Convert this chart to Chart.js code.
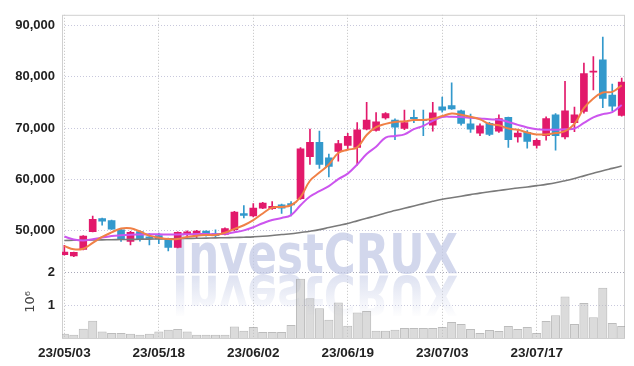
<!DOCTYPE html>
<html>
<head>
<meta charset="utf-8">
<script src="https://cdn.jsdelivr.net/npm/chart.js@4.4.0/dist/chart.umd.min.js"></script>
<style>
  html, body { margin: 0; padding: 0; background: #fff; }
  #wrap { width: 634px; height: 366px; position: relative; }
</style>
</head>
<body>
<div id="wrap"><canvas id="stockChart"></canvas></div>
<script>
// trading days, 23/05/03 .. 23/07/28
const dates = [
  '23/05/03', '23/05/04', '23/05/08', '23/05/09', '23/05/10', '23/05/11', '23/05/12', '23/05/15', '23/05/16', '23/05/17',
  '23/05/18', '23/05/19', '23/05/22', '23/05/23', '23/05/24', '23/05/25', '23/05/26', '23/05/30', '23/05/31', '23/06/01',
  '23/06/02', '23/06/05', '23/06/07', '23/06/08', '23/06/09', '23/06/12', '23/06/13', '23/06/14', '23/06/15', '23/06/16',
  '23/06/19', '23/06/20', '23/06/21', '23/06/22', '23/06/23', '23/06/26', '23/06/27', '23/06/28', '23/06/29', '23/06/30',
  '23/07/03', '23/07/04', '23/07/05', '23/07/06', '23/07/07', '23/07/10', '23/07/11', '23/07/12', '23/07/13', '23/07/14',
  '23/07/17', '23/07/18', '23/07/19', '23/07/20', '23/07/21', '23/07/24', '23/07/25', '23/07/26', '23/07/27', '23/07/28'
];
const dateTicks = [0, 10, 20, 30, 40, 50];
const priceTicks = [50000, 60000, 70000, 80000, 90000];
const volumeTicks = [1000000, 2000000];

const openPrices = [
  45400, 45150, 46400, 49850, 52380, 52000, 50230, 47940, 49850, 48850,
  49100, 48440, 46800, 49330, 49080, 49960, 49460, 49330, 50230, 53390,
  52900, 54420, 54300, 55050, 55300, 56250, 64440, 67240, 64190, 65470,
  66610, 66230, 69770, 69520, 71940, 71560, 69900, 72060, 71680, 70530,
  74100, 74340, 73330, 70800, 69010, 70910, 69390, 72060, 68250, 69140,
  66610, 68510, 72570, 68250, 71050, 73200, 80850, 83240, 76380, 72440
];
const highPrices = [
  47200, 45900, 49100, 52900, 52510, 52100, 50350, 49900, 50000, 49470,
  49600, 48600, 49800, 50000, 50100, 50000, 50200, 50600, 53800, 54900,
  55300, 55550, 55700, 55200, 55700, 66200, 69770, 69390, 64950, 67620,
  68950, 71050, 74990, 72990, 73000, 71800, 73470, 73470, 73470, 74990,
  76000, 78800, 73480, 72700, 70800, 71100, 72570, 72100, 69520, 69520,
  67880, 72190, 72820, 79050, 74080, 82600, 83870, 87680, 78540, 79680
];
const lowPrices = [
  45300, 45000, 46300, 49800, 51100, 50300, 47950, 47300, 48000, 47290,
  47540, 46100, 46700, 48900, 48700, 49000, 48700, 49200, 50000, 52510,
  52700, 54300, 54200, 53390, 52900, 56100, 62900, 62150, 60500, 63560,
  65850, 62800, 69650, 69400, 71700, 67750, 69700, 71050, 68510, 69390,
  73100, 73600, 70530, 69140, 68500, 68500, 69140, 66230, 67240, 66100,
  66100, 67620, 65710, 67870, 69280, 72900, 77390, 73960, 73330, 72300
];
const closePrices = [
  45900, 45850, 49000, 52250, 51870, 50340, 48320, 49710, 48320, 48560,
  48460, 46800, 49710, 49840, 49960, 49460, 49080, 50470, 53650, 53010,
  54420, 55430, 54800, 54420, 55050, 65960, 67240, 62900, 62530, 66990,
  68380, 69660, 71560, 71180, 72820, 70150, 71050, 71810, 71430, 72950,
  73470, 73720, 70910, 69770, 70420, 68760, 71810, 67750, 69010, 67370,
  67620, 71810, 68510, 73330, 72570, 80570, 80950, 75750, 74230, 78920
];

// moving averages
const ma5 = [
  47050, 46420, 46530, 47670, 48820, 49710, 50470, 50530, 49900, 49080,
  48700, 48440, 48440, 48820, 49080, 49200, 49200, 49650, 50400, 51100,
  52100, 53390, 54530, 54670, 54990, 56570, 59750, 61330, 62910, 65140,
  65770, 66230, 68630, 70150, 70800, 71180, 71300, 71560, 71560, 71800,
  72320, 72820, 72570, 72190, 71680, 70800, 70530, 69900, 69660, 69140,
  68760, 68760, 69010, 69390, 70800, 73850, 75750, 76900, 77010, 78290
];
const ma10 = [
  48900, 48350, 48150, 48400, 48700, 49000, 49150, 49250, 49300, 49350,
  49350, 49300, 49300, 49350, 49400, 49400, 49350, 49450, 49750, 50100,
  50720, 51480, 52130, 52510, 53080, 54990, 56700, 57710, 58720, 60060,
  61140, 62910, 64950, 66340, 68130, 68440, 68760, 69770, 70420, 71400,
  72130, 72190, 72130, 72000, 71870, 71680, 71620, 71180, 70610, 70100,
  69770, 69660, 69660, 69770, 69900, 70990, 72060, 72700, 73090, 74480
];
const ma60 = [
  48150, 48180, 48200, 48230, 48260, 48290, 48320, 48350, 48380, 48410,
  48440, 48470, 48500, 48530, 48560, 48600, 48640, 48680, 48720, 48780,
  48850, 48950, 49100, 49300, 49450, 49700, 49950, 50250, 50650, 51050,
  51450, 51950, 52450, 52950, 53500, 53950, 54400, 54850, 55300, 55750,
  56150, 56450, 56750, 57050, 57350, 57600, 57850, 58100, 58350, 58550,
  58800, 59050, 59350, 59750, 60200, 60700, 61200, 61700, 62150, 62600
];

const volumes = [
  126000, 96000, 285000, 525000, 195000, 156000, 156000, 126000, 96000, 126000,
  195000, 255000, 276000, 195000, 96000, 96000, 96000, 96000, 354000, 225000,
  336000, 186000, 186000, 186000, 396000, 1810000, 1210000, 907000, 556000, 1087000,
  375000, 775000, 826000, 225000, 225000, 255000, 306000, 306000, 306000, 306000,
  336000, 486000, 426000, 276000, 156000, 246000, 216000, 366000, 276000, 336000,
  156000, 516000, 696000, 1267000, 426000, 1066000, 636000, 1537000, 456000, 366000
];

const UP = '#e2196b';
const DOWN = '#3399cc';
const FONT = "'Liberation Sans', Arial, sans-serif";

const candleColors = dates.map((d, i) => closePrices[i] >= openPrices[i] ? UP : DOWN);
const wicks = dates.map((d, i) => ({ x: i, y: [lowPrices[i], highPrices[i]] }));
const bodies = dates.map((d, i) => ({ x: i, y: [openPrices[i], closePrices[i]] }));
const volumeBars = dates.map((d, i) => ({ x: i, y: volumes[i] }));
const toPoints = arr => arr.map((v, i) => ({ x: i, y: v }));
const fixTicks = values => s => { s.ticks = values.map(v => ({ value: v })); };

// faded logo with its mirror image, drawn under the marks
const watermark = {
  id: 'watermark',
  beforeDatasetsDraw(chart) {
    const ctx = chart.ctx;
    const text = 'InvestCRUX';
    ctx.save();
    ctx.font = "bold 56px 'DejaVu Sans Condensed', 'DejaVu Sans', sans-serif";
    const sx = 286 / ctx.measureText(text).width;
    ctx.textAlign = 'center';
    ctx.textBaseline = 'alphabetic';
    ctx.translate(315, 273);
    ctx.scale(sx, 1);
    ctx.fillStyle = 'rgba(192, 200, 228, 0.72)';
    ctx.fillText(text, 0, 0);
    ctx.translate(0, 3);
    ctx.scale(1, -1);
    const g = ctx.createLinearGradient(0, 0, 0, -42);
    g.addColorStop(0, 'rgba(205, 211, 234, 0.65)');
    g.addColorStop(1, 'rgba(205, 211, 234, 0)');
    ctx.fillStyle = g;
    ctx.fillText(text, 0, 0);
    ctx.restore();
  }
};

const frame = {
  id: 'frame',
  beforeDatasetsDraw(chart) {
    const { ctx, chartArea: a } = chart;
    ctx.save();
    ctx.strokeStyle = '#d0d0d0';
    ctx.lineWidth = 1;
    ctx.strokeRect(a.left + 0.5, a.top + 0.5, a.right - a.left - 1, a.bottom - a.top);
    ctx.restore();
  }
};

const tickFont = { family: FONT, size: 13, weight: 'bold' };

new Chart(document.getElementById('stockChart'), {
  type: 'bar',
  data: {
    datasets: [
      {
        type: 'line', label: 'MA5', data: toPoints(ma5), yAxisID: 'y',
        borderColor: '#f08046', borderWidth: 2, pointRadius: 0, tension: 0.4, order: 0
      },
      {
        type: 'line', label: 'MA10', data: toPoints(ma10), yAxisID: 'y',
        borderColor: '#cc55ee', borderWidth: 2, pointRadius: 0, tension: 0.4, order: 1
      },
      {
        type: 'line', label: 'MA60', data: toPoints(ma60), yAxisID: 'y',
        borderColor: '#7a7a7a', borderWidth: 1.6, pointRadius: 0, tension: 0.4, order: 2
      },
      {
        label: 'body', data: bodies, yAxisID: 'y', grouped: false,
        backgroundColor: candleColors, barThickness: 7, minBarLength: 1, order: 3
      },
      {
        label: 'wick', data: wicks, yAxisID: 'y', grouped: false,
        backgroundColor: candleColors, barThickness: 1, order: 4
      },
      {
        label: 'volume', data: volumeBars, yAxisID: 'yv', grouped: false,
        backgroundColor: 'rgba(190, 190, 190, 0.55)', borderColor: 'rgba(160, 160, 160, 0.7)',
        borderWidth: 1, barPercentage: 1, categoryPercentage: 0.96, order: 5
      }
    ]
  },
  options: {
    responsive: true,
    maintainAspectRatio: false,
    animation: false,
    layout: { padding: { top: 9, right: 9, left: 0, bottom: 0 } },
    plugins: {
      legend: { display: false },
      tooltip: { enabled: false },
    },
    scales: {
      x: {
        type: 'linear', min: -0.25, max: 59.35, offset: false,
        grid: { color: '#c0c0c0', drawTicks: false, offset: false },
        border: { display: false, dash: [1, 2] },
        afterBuildTicks: fixTicks(dateTicks),
        ticks: {
          autoSkip: false, maxRotation: 0, padding: 7, color: '#222',
          font: { family: FONT, size: 13.5, weight: 'bold' },
          callback: v => dates[v] ?? '',
        },
        afterFit: s => { s.height = 28; },
      },
      yv: {
        type: 'linear', position: 'left', stack: 'panels', stackWeight: 73.5,
        min: 0, max: 2200000,
        grid: {
          color: c => c.tick.value === 2000000 ? '#a8a8b8' : '#c8c8dc',
          drawTicks: false,
        },
        border: { display: false, dash: [1, 2] },
        afterBuildTicks: fixTicks(volumeTicks),
        ticks: {
          padding: 7, color: '#222', font: tickFont,
          callback: v => String(v / 1000000),
        },
        title: {
          display: true, text: '10⁶', color: '#444', padding: { top: 23, bottom: 0 },
          font: { family: "'DejaVu Sans', sans-serif", size: 13 },
        },
        afterFit: s => { s.width = 62; },
      },
      y: {
        type: 'linear', position: 'left', stack: 'panels', stackWeight: 256,
        min: 43200, max: 92000,
        grid: { color: '#c8c8dc', drawTicks: false },
        border: { display: false, dash: [1, 2] },
        afterBuildTicks: fixTicks(priceTicks),
        ticks: {
          padding: 7, color: '#222', font: tickFont,
          callback: v => v.toLocaleString('en-US'),
        },
        afterFit: s => { s.width = 62; },
      },
    },
  },
  plugins: [watermark, frame],
});
</script>
</body>
</html>
